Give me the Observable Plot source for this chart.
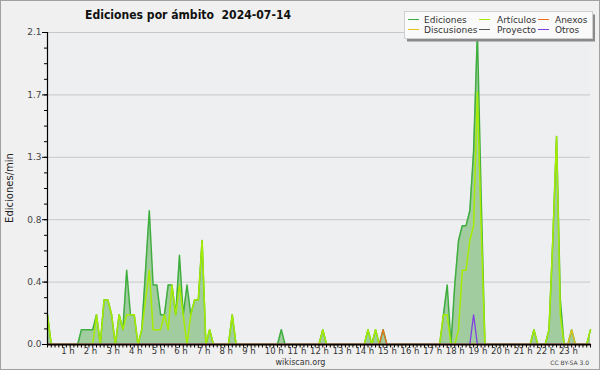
<!DOCTYPE html>
<html><head><meta charset="utf-8">
<script src="https://cdn.jsdelivr.net/npm/d3@7"></script>
<script src="https://cdn.jsdelivr.net/npm/@observablehq/plot@0.6"></script>
<style>
html,body{margin:0;padding:0;background:#f0f0f0;}
#chart{position:relative;width:600px;height:370px;overflow:hidden;}
svg text{font-family:"DejaVu Sans",sans-serif;}
</style></head><body><div id="chart"></div>
<script>
// ---- data (edits per minute, 10-minute bins from 00:00 to 24:00) ----
const chartTitle = "Ediciones por ámbito  2024-07-14";
const yAxisLabel = "Ediciones/min";
const footerCenter = "wikiscan.org";
const footerRight = "CC BY-SA 3.0";
const seriesNames = ["Ediciones", "Artículos", "Anexos", "Discusiones", "Proyecto", "Otros"];
const seriesColors = ["#3fae3f", "#a6ec00", "#e8701e", "#e6c21e", "#555555", "#7f3fe0"];
const areaColor = "#a0cca0";
const yTickValues = [0, 0.42, 0.84, 1.26, 1.68, 2.1];
const yTickLabels = ["0.0", "0.4", "0.8", "1.3", "1.7", "2.1"];
const hourValues = [1,2,3,4,5,6,7,8,9,10,11,12,13,14,15,16,17,18,19,20,21,22,23];
const hourLabels = ["1 h","2 h","3 h","4 h","5 h","6 h","7 h","8 h","9 h","10 h","11 h","12 h","13 h","14 h","15 h","16 h","17 h","18 h","19 h","20 h","21 h","22 h","23 h"];

const ediciones = [
  0.2,0,0,0,0,0,0,0,0,0.1,0.1,0.1,
  0.1,0.2,0,0.3,0.3,0.2,0,0.2,0.1,0.5,0.2,0.2,
  0,0.1,0.5,0.9,0.4,0.4,0.2,0.2,0.4,0.4,0.2,0.6,
  0.2,0.4,0.2,0.3,0.3,0.7,0,0.1,0,0,0,0,
  0,0.2,0,0,0,0,0,0,0,0,0,0,
  0,0,0.1,0,0,0,0,0,0,0,0,0,
  0,0.1,0,0,0,0,0,0,0,0,0,0,
  0,0.1,0,0.1,0,0.1,0,0,0,0,0,0,
  0,0,0,0,0,0,0,0,0,0.2,0.4,0,
  0.4,0.7,0.8,0.8,0.9,1.3,2.1,1.0,0,0,0,0,
  0,0,0,0,0,0,0,0,0,0.1,0,0,
  0,0.1,0.7,1.4,0.3,0,0,0.1,0,0,0,0,
  0.1
];
const articulos = [
  0.2,0,0,0,0,0,0,0,0,0,0,0,
  0,0.2,0,0.3,0.3,0.2,0,0.2,0.1,0.2,0.2,0.2,
  0,0.1,0.3,0.5,0.1,0.1,0.1,0.2,0.1,0.4,0.2,0.4,
  0.2,0,0.2,0.3,0.3,0.7,0,0.1,0,0,0,0,
  0,0.2,0,0,0,0,0,0,0,0,0,0,
  0,0,0,0,0,0,0,0,0,0,0,0,
  0,0.1,0,0,0,0,0,0,0,0,0,0,
  0,0.1,0,0.1,0,0,0,0,0,0,0,0,
  0,0,0,0,0,0,0,0,0,0.2,0.2,0,
  0,0.1,0.5,0.5,0.7,0.8,1.7,0.8,0,0,0,0,
  0,0,0,0,0,0,0,0,0,0.1,0,0,
  0,0.1,0.7,1.4,0.2,0,0,0,0,0,0,0,
  0.1
];
const anexos = [
  0,0,0,0,0,0,0,0,0,0,0,0,
  0,0,0,0,0,0,0,0,0,0,0,0,
  0,0,0,0,0,0,0,0,0,0,0,0,
  0,0,0,0,0,0,0,0,0,0,0,0,
  0,0,0,0,0,0,0,0,0,0,0,0,
  0,0,0,0,0,0,0,0,0,0,0,0,
  0,0,0,0,0,0,0,0,0,0,0,0,
  0,0,0,0,0,0.1,0,0,0,0,0,0,
  0,0,0,0,0,0,0,0,0,0,0,0,
  0,0,0,0,0,0,0,0,0,0,0,0,
  0,0,0,0,0,0,0,0,0,0,0,0,
  0,0,0,0,0,0,0,0,0,0,0,0,
  0
];
const discusiones = [
  0,0,0,0,0,0,0,0,0,0,0,0,
  0,0,0,0,0,0,0,0,0,0,0,0,
  0,0,0,0,0,0,0,0,0,0,0,0,
  0,0,0,0,0,0,0,0,0,0,0,0,
  0,0,0,0,0,0,0,0,0,0,0,0,
  0,0,0,0,0,0,0,0,0,0,0,0,
  0,0,0,0,0,0,0,0,0,0,0,0,
  0,0,0,0,0,0,0,0,0,0,0,0,
  0,0,0,0,0,0,0,0,0,0,0,0,
  0,0,0,0,0,0,0,0,0,0,0,0,
  0,0,0,0,0,0,0,0,0,0,0,0,
  0,0,0,0,0,0,0,0.1,0,0,0,0,
  0
];
const proyecto = [
  0,0,0,0,0,0,0,0,0,0,0,0,
  0,0,0,0,0,0,0,0,0,0,0,0,
  0,0,0,0,0,0,0,0,0,0,0,0,
  0,0,0,0,0,0,0,0,0,0,0,0,
  0,0,0,0,0,0,0,0,0,0,0,0,
  0,0,0,0,0,0,0,0,0,0,0,0,
  0,0,0,0,0,0,0,0,0,0,0,0,
  0,0,0,0,0,0,0,0,0,0,0,0,
  0,0,0,0,0,0,0,0,0,0,0,0,
  0,0,0,0,0,0,0,0,0,0,0,0,
  0,0,0,0,0,0,0,0,0,0,0,0,
  0,0,0,0,0,0,0,0,0,0,0,0,
  0
];
const otros = [
  0,0,0,0,0,0,0,0,0,0,0,0,
  0,0,0,0,0,0,0,0,0,0,0,0,
  0,0,0,0,0,0,0,0,0,0,0,0,
  0,0,0,0,0,0,0,0,0,0,0,0,
  0,0,0,0,0,0,0,0,0,0,0,0,
  0,0,0,0,0,0,0,0,0,0,0,0,
  0,0,0,0,0,0,0,0,0,0,0,0,
  0,0,0,0,0,0,0,0,0,0,0,0,
  0,0,0,0,0,0,0,0,0,0,0,0,
  0,0,0,0,0,0.2,0,0,0,0,0,0,
  0,0,0,0,0,0,0,0,0,0,0,0,
  0,0,0,0,0,0,0,0,0,0,0,0,
  0
];

// ---- table built from the arrays ----
const rows = ediciones.map((v, i) => ({t: i / 6, ediciones: v}));
const lineRows = (arr) => arr.map((v, i) => ({t: i / 6, v}));
const minorX = d3.range(145).map(i => i / 6);
const minorY = d3.range(21).map(i => i * 0.105);

const W = 600, H = 370;
const plot = Plot.plot({
  width: W, height: H,
  marginLeft: 47, marginRight: 10, marginTop: 32, marginBottom: 26,
  style: {background: "#f0f0f0", color: "#333", fontFamily: "DejaVu Sans"},
  x: {type: "linear", domain: [0, 24], label: null},
  y: {type: "linear", domain: [0, 2.1], label: null},
  marks: [
    Plot.frame({fill: "#eeeff1", stroke: null}),
    Plot.gridY(yTickValues, {stroke: "#c8c8c8", strokeOpacity: 1}),
    Plot.areaY(rows, {x: "t", y: "ediciones", fill: areaColor, fillOpacity: 1}),
    Plot.lineY(lineRows(ediciones), {x: "t", y: "v", stroke: seriesColors[0], strokeWidth: 1.5}),
    Plot.lineY(lineRows(proyecto), {x: "t", y: "v", stroke: seriesColors[4], strokeWidth: 1.3}),
    Plot.lineY(lineRows(articulos), {x: "t", y: "v", stroke: seriesColors[1], strokeWidth: 1.5}),
    Plot.lineY(lineRows(discusiones), {x: "t", y: "v", stroke: seriesColors[3], strokeWidth: 1.3}),
    Plot.lineY(lineRows(anexos), {x: "t", y: "v", stroke: seriesColors[2], strokeWidth: 1.3}),
    Plot.lineY(lineRows(otros), {x: "t", y: "v", stroke: seriesColors[5], strokeWidth: 1.3}),
    Plot.axisY(minorY, {tickSize: 3, tickFormat: () => "", stroke: "#000", label: null}),
    Plot.axisY(yTickValues, {tickSize: 5, tickPadding: 1, tickFormat: (d, i) => yTickLabels[i], fontSize: 9, fill: "#444", stroke: "#000", label: null}),
    Plot.axisX(minorX, {tickSize: 3.5, tickFormat: () => "", stroke: "#000", label: null}),
    Plot.axisX(hourValues, {tickSize: 0, tickPadding: 3, tickFormat: (d, i) => hourLabels[i], textAnchor: "start", dx: -9, fontSize: 8.5, fill: "#333", label: null}),
    Plot.ruleX([0], {stroke: "#000", strokeWidth: 1.2}),
    Plot.ruleY([0], {stroke: "#000", strokeWidth: 1.5})
  ]
});
document.getElementById("chart").appendChild(plot);

// ---- titles, legend, footers ----
const svg = d3.select(plot);
svg.append("rect").attr("x", 0.5).attr("y", 0.5).attr("width", W - 1).attr("height", H - 1)
  .attr("fill", "none").attr("stroke", "#a0a0a0");
svg.append("text").attr("x", 85).attr("y", 19).attr("text-anchor", "start").attr("font-weight", "bold").attr("font-size", 11.5)
  .attr("fill", "#111").style("white-space", "pre").attr("textLength", 206).attr("lengthAdjust", "spacingAndGlyphs")
  .text(chartTitle);
svg.append("text").attr("transform", "translate(13,188) rotate(-90)").attr("text-anchor", "middle")
  .attr("font-size", 10).attr("fill", "#222").text(yAxisLabel);
svg.append("text").attr("x", 300.5).attr("y", 365).attr("text-anchor", "middle")
  .attr("font-size", 8).attr("fill", "#333").text(footerCenter);
svg.append("text").attr("x", 589).attr("y", 365).attr("text-anchor", "end")
  .attr("font-size", 6).attr("fill", "#444").text(footerRight);

const lg = svg.append("g");
lg.append("rect").attr("x", 407).attr("y", 14.5).attr("width", 188).attr("height", 27).attr("fill", "#8a8a8a");
lg.append("rect").attr("x", 404.5).attr("y", 11.5).attr("width", 188).attr("height", 27)
  .attr("fill", "#fafafa").attr("stroke", "#cfcfcf");
const colSwatch = [408, 479, 538], colText = [424, 497, 555];
const rowLine = [19.5, 29.5], rowText = [22.5, 32.5];
seriesNames.forEach((name, k) => {
  const c = k % 3, r = Math.floor(k / 3);
  lg.append("line").attr("x1", colSwatch[c]).attr("x2", colSwatch[c] + 11)
    .attr("y1", rowLine[r]).attr("y2", rowLine[r]).attr("stroke", seriesColors[k]).attr("stroke-width", 1);
  lg.append("text").attr("x", colText[c]).attr("y", rowText[r]).attr("text-anchor", "start").attr("font-size", 9)
    .attr("fill", "#333").text(name);
});
</script></body></html>
